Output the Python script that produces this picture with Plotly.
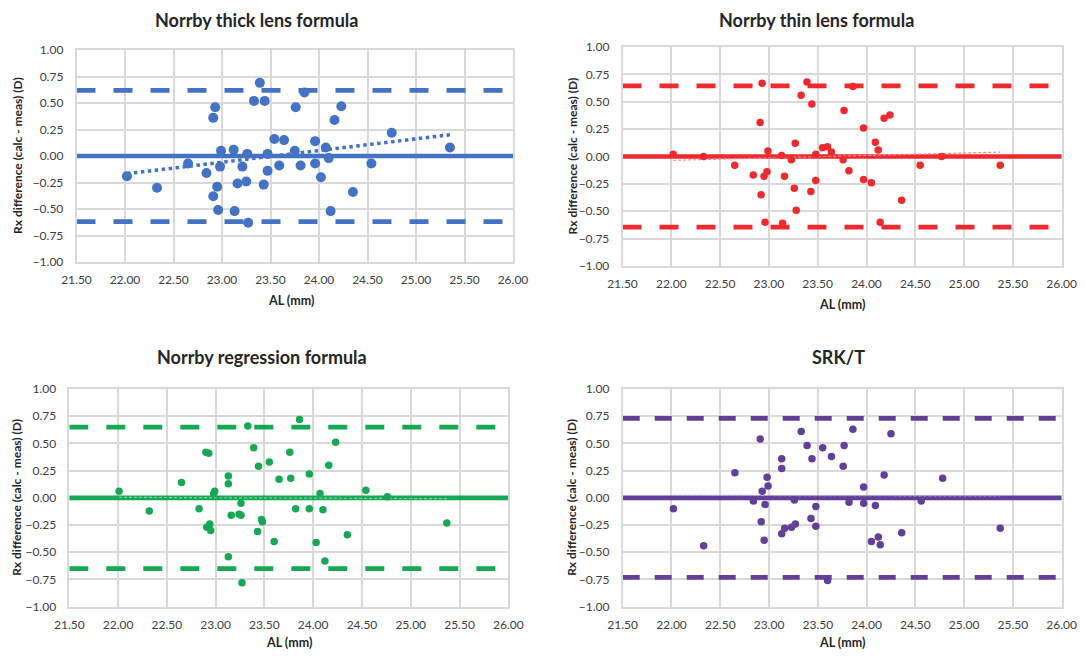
import numpy as np
import plotly.graph_objects as go

# ---------------- data ----------------
titles = ["Norrby thick lens formula", "Norrby thin lens formula",
          "Norrby regression formula", "SRK/T"]

al_thick = [22.02, 22.33, 22.65, 22.84, 22.91, 22.93, 22.95, 22.91, 22.96, 22.99, 22.98,
            23.12, 23.13, 23.16, 23.21, 23.25, 23.26, 23.27, 23.33, 23.39, 23.44, 23.43,
            23.47, 23.47, 23.54, 23.59, 23.64, 23.76, 23.75, 23.81, 23.85, 23.96, 23.96,
            24.02, 24.07, 24.10, 24.12, 24.16, 24.23, 24.35, 24.54, 24.75, 25.35]
d_thick = [-0.19, -0.30, -0.07, -0.16, 0.36, 0.46, -0.29, -0.38, -0.51, 0.05, -0.10,
           0.06, -0.52, -0.26, -0.10, -0.24, 0.02, -0.63, 0.52, 0.69, 0.52, -0.27,
           -0.14, 0.02, 0.16, -0.09, 0.15, 0.46, 0.05, -0.09, 0.60, 0.14, -0.07,
           -0.20, 0.08, -0.02, -0.52, 0.34, 0.47, -0.34, -0.07, 0.22, 0.08]

al_thin = [22.02, 22.33, 22.65, 22.84, 22.91, 22.93, 22.92, 22.95, 22.98, 22.99, 22.96,
           23.13, 23.14, 23.16, 23.23, 23.26, 23.27, 23.28, 23.33, 23.39, 23.44, 23.43,
           23.48, 23.48, 23.55, 23.60, 23.64, 23.76, 23.77, 23.82, 23.86, 23.97, 23.97,
           24.05, 24.09, 24.12, 24.14, 24.18, 24.24, 24.36, 24.55, 24.77, 25.37]
d_thin = [0.02, 0.00, -0.08, -0.17, 0.31, 0.67, -0.35, -0.18, -0.14, 0.05, -0.60,
          0.01, -0.61, -0.18, -0.03, -0.29, 0.12, -0.49, 0.56, 0.68, 0.48, -0.32,
          -0.22, 0.02, 0.08, 0.09, 0.04, -0.03, 0.42, -0.13, 0.64, 0.26, -0.21,
          -0.24, 0.13, 0.06, -0.60, 0.35, 0.38, -0.40, -0.08, 0.00, -0.08]

al_regr = [22.01, 22.32, 22.65, 22.83, 22.90, 22.93, 22.91, 22.94, 22.95, 22.98, 22.99,
           23.13, 23.13, 23.13, 23.16, 23.24, 23.26, 23.26, 23.27, 23.33, 23.39, 23.44,
           23.43, 23.47, 23.48, 23.55, 23.60, 23.65, 23.76, 23.77, 23.82, 23.86, 23.96,
           23.96, 24.03, 24.07, 24.10, 24.12, 24.16, 24.23, 24.35, 24.54, 24.76, 25.37]
d_regr = [0.06, -0.12, 0.14, -0.10, 0.42, 0.41, -0.27, -0.24, -0.30, 0.04, 0.06,
          0.20, 0.13, -0.54, -0.16, -0.15, -0.16, -0.05, -0.78, 0.66, 0.46, 0.29,
          -0.31, -0.20, -0.22, 0.33, -0.40, 0.17, 0.42, 0.18, -0.10, 0.72, 0.22,
          -0.10, -0.41, 0.04, -0.11, -0.58, 0.30, 0.51, -0.34, 0.07, 0.01, -0.23]

al_srkt = [22.02, 22.33, 22.65, 22.84, 22.91, 22.92, 22.93, 22.95, 22.96, 22.98, 22.99,
           23.13, 23.13, 23.13, 23.16, 23.23, 23.26, 23.27, 23.33, 23.39, 23.44, 23.43,
           23.48, 23.48, 23.55, 23.60, 23.64, 23.76, 23.77, 23.82, 23.86, 23.97, 23.97,
           24.05, 24.09, 24.12, 24.14, 24.18, 24.25, 24.36, 24.56, 24.78, 25.37]
d_srkt = [-0.10, -0.44, 0.23, -0.03, 0.54, -0.22, 0.06, -0.39, -0.06, 0.19, 0.11,
          0.36, 0.27, -0.33, -0.28, -0.27, -0.02, -0.24, 0.61, 0.48, 0.36, -0.19,
          -0.26, -0.08, 0.46, -0.76, 0.38, 0.29, 0.48, -0.04, 0.63, 0.10, -0.05,
          -0.40, -0.07, -0.36, -0.43, 0.21, 0.59, -0.32, -0.03, 0.18, -0.28]

limits = [0.62, 0.645, 0.65, 0.73]   # 95% limits of agreement (+/-)
mean_diff = [0.0, 0.0, 0.0, 0.0]
x_range = [21.5, 26.0]
x_ticks = [21.5, 22.0, 22.5, 23.0, 23.5, 24.0, 24.5, 25.0, 25.5, 26.0]
y_ticks = [-1.0, -0.75, -0.5, -0.25, 0.0, 0.25, 0.5, 0.75, 1.0]

# ---------------- styles ----------------
OFF = 8                      # page body margin in the viewer
W, H = 1085 - OFF, 656 - OFF  # figure size so it fills the window
colors = ["#4472C4", "#EE2A2E", "#16A852", "#623F98"]
trend_colors = ["#4472C4", "#F38A8C", "#7FCFA0", "#B09FCB"]
marker_sizes = [10, 7.5, 7.5, 7.5]
dashes = ["19px,18px", "19px,18px", "19px,18px", "17px,15px"]
# plot areas in window pixels: (left, right, top, bottom)
areas = [(76.5, 513, 50, 262), (622.5, 1061.7, 47, 266),
         (69.3, 508.3, 389, 606.7), (622.7, 1061.7, 389, 606.7)]
title_pos = [(256, None), (817, None), (262, 357), (838, 357)]
xtitle_pos = [(291, 300), (842, 305), (289, 642), (842, 642)]
ytitle_x = [17, 572, 17, 572]

FONT = "Lato"
TXT = "#262626"


def px_x(v):
    return (v - OFF) / W


def px_y(v):
    return 1 - (v - OFF) / H


datasets = [(al_thick, d_thick), (al_thin, d_thin), (al_regr, d_regr), (al_srkt, d_srkt)]

fig = go.Figure()
layout = dict(width=W, height=H, margin=dict(l=0, r=0, t=0, b=0, autoexpand=False),
              paper_bgcolor="white", plot_bgcolor="white", showlegend=False,
              font=dict(family=FONT, color=TXT))
annotations = []

for i, (xs, ys) in enumerate(datasets):
    n = "" if i == 0 else str(i + 1)
    xa, ya = "x" + n, "y" + n
    l, r, t, b = areas[i]
    layout["xaxis" + n] = dict(
        domain=[px_x(l), px_x(r)], range=x_range, anchor=ya, tickvals=x_ticks,
        tickformat=".2f", showgrid=True, gridcolor="#D9D9D9", gridwidth=1.5,
        showline=True, linecolor="#D9D9D9", linewidth=1.5, mirror=True,
        zeroline=False, ticks="", automargin=False,
        tickfont=dict(size=12, color="#404040", family=FONT),
        ticklabelstandoff=6)
    layout["yaxis" + n] = dict(
        domain=[px_y(b), px_y(t)], range=[-1.0, 1.0], anchor=xa, tickvals=y_ticks,
        tickformat=".2f", showgrid=True, gridcolor="#D9D9D9", gridwidth=1.5,
        showline=True, linecolor="#D9D9D9", linewidth=1.5, mirror=True,
        zeroline=False, ticks="", automargin=False,
        tickfont=dict(size=12, color="#404040", family=FONT),
        ticklabelstandoff=9)
    c = colors[i]
    # limits of agreement
    for s in (1, -1):
        fig.add_trace(go.Scatter(x=x_range, y=[mean_diff[i] + s * limits[i]] * 2, mode="lines",
                                 line=dict(color=c, width=4.8, dash=dashes[i]),
                                 xaxis=xa, yaxis=ya, hoverinfo="skip"))
    # mean line
    fig.add_trace(go.Scatter(x=x_range, y=[mean_diff[i]] * 2, mode="lines",
                             line=dict(color=c, width=4.6), xaxis=xa, yaxis=ya,
                             hoverinfo="skip"))
    # linear trend line
    xarr = np.array(xs)
    slope, icpt = np.polyfit(xarr, np.array(ys), 1)
    tx = np.array([xarr.min(), xarr.max()])
    if i == 0:
        tl = dict(color=trend_colors[i], width=3.5, dash="dot")
    else:
        tl = dict(color=trend_colors[i], width=1.2, dash="3px,2px")
    fig.add_trace(go.Scatter(x=tx, y=slope * tx + icpt, mode="lines", line=tl,
                             xaxis=xa, yaxis=ya, hoverinfo="skip"))
    # points
    fig.add_trace(go.Scatter(x=xs, y=ys, mode="markers",
                             marker=dict(color=c, size=marker_sizes[i], line=dict(width=0)),
                             xaxis=xa, yaxis=ya))
    # titles
    tx_, ty_ = title_pos[i]
    if ty_ is None:
        tpos = dict(y=1.0, yanchor="top")
    else:
        tpos = dict(y=px_y(ty_), yanchor="middle")
    annotations.append(dict(text="<b>" + titles[i] + "</b>", x=px_x(tx_),
                            xref="paper", yref="paper", showarrow=False,
                            xanchor="center", borderpad=0,
                            font=dict(size=18, family=FONT, color=TXT), **tpos))
    ax_, ay_ = xtitle_pos[i]
    annotations.append(dict(text="<b>AL (mm)</b>", x=px_x(ax_), y=px_y(ay_),
                            xref="paper", yref="paper", showarrow=False,
                            xanchor="center", yanchor="middle",
                            font=dict(size=12.5, family=FONT, color=TXT)))
    annotations.append(dict(text="<b>Rx difference (calc - meas) (D)</b>",
                            x=px_x(ytitle_x[i]), y=px_y((t + b) / 2),
                            xref="paper", yref="paper", showarrow=False, textangle=-90,
                            xanchor="center", yanchor="middle",
                            font=dict(size=12, family=FONT, color=TXT)))

layout["annotations"] = annotations
fig.update_layout(**layout)
fig.write_html("out.html")
